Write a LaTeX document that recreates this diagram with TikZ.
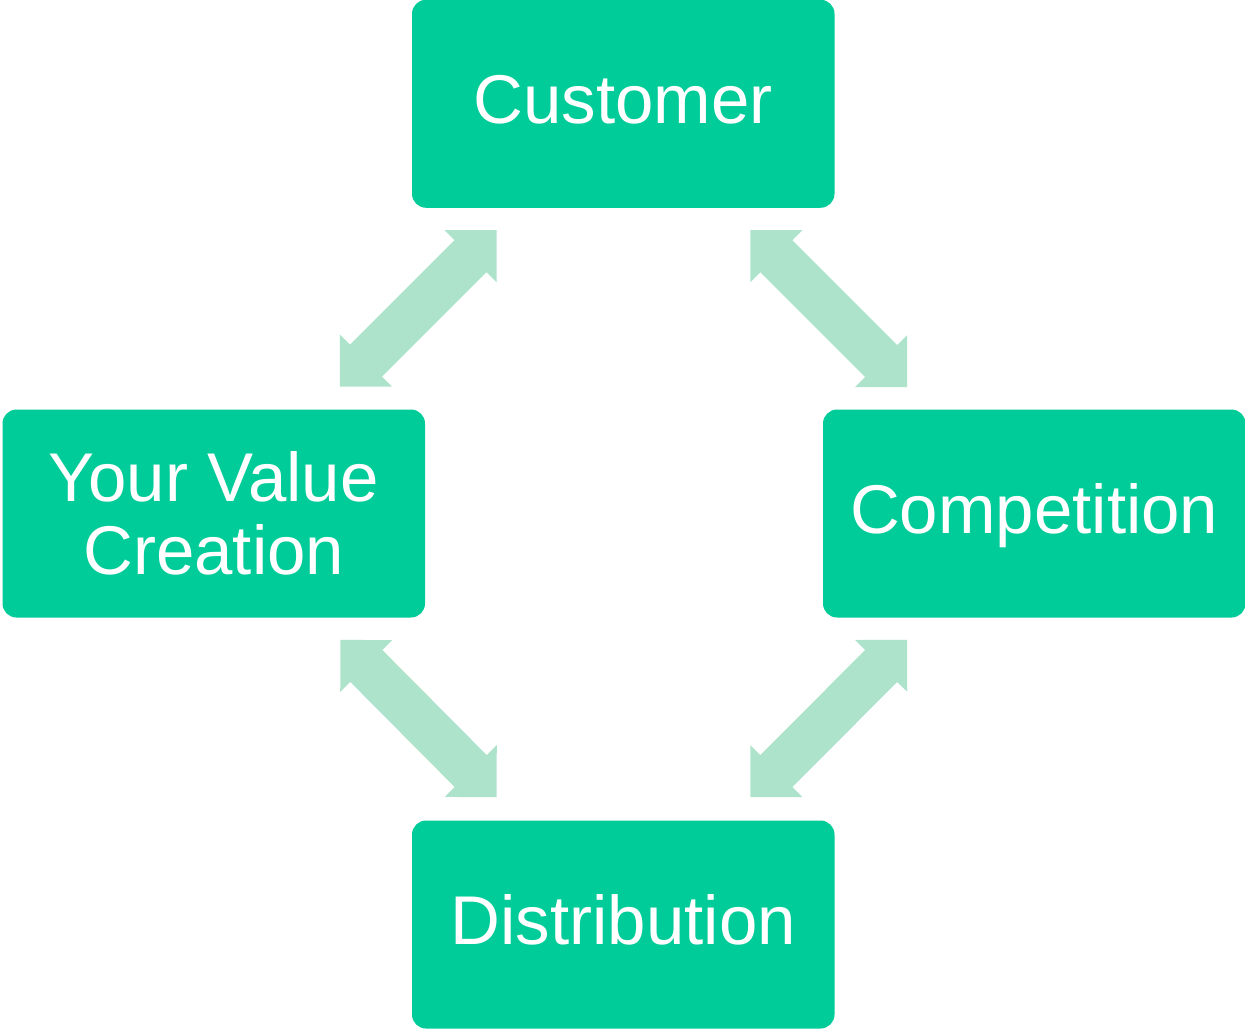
\documentclass[tikz,border=0pt]{standalone}
\usepackage{fontspec}
\setmainfont{Liberation Sans}
\usetikzlibrary{calc}
\definecolor{boxgreen}{RGB}{0,204,153}
\definecolor{arrowgreen}{RGB}{173,227,203}
\tikzset{
  box/.style={fill=boxgreen, draw=none, rounded corners=7pt, inner sep=0pt,
    minimum width=211.25pt, minimum height=104pt, text=white, align=center,
    font=\fontsize{34.5pt}{36.2pt}\selectfont},
  single/.style={text height=26pt, text depth=5.8pt},
  dblarrow/.style={fill=arrowgreen, draw=none}
}
\newcommand{\dblarrowpath}[2]{%
  \fill[dblarrow] (#1) -- ($(#1)!26pt!45:(#2)$) -- ($(#1)!21.59pt!31.6:(#2)$)
    -- ($(#2)!21.59pt!-31.6:(#1)$) -- ($(#2)!26pt!-45:(#1)$) -- (#2)
    -- ($(#2)!26pt!45:(#1)$) -- ($(#2)!21.59pt!31.6:(#1)$)
    -- ($(#1)!21.59pt!-31.6:(#2)$) -- ($(#1)!26pt!-45:(#2)$) -- cycle;}
\begin{document}
\begin{tikzpicture}[x=0.5pt, y=-0.5pt]
\useasboundingbox (0,0) rectangle (1245,1030);
\node[box, single] (cust) at (623.25,103.75) {Customer};
\node[box] (yvc) at (213.75,513.5) {Your Value\\Creation};
\node[box, single] (comp) at (1034.25,513.5) {Competition};
\node[box, single] (dist) at (623.25,924.5) {Distribution};
\coordinate (t1a) at ($(cust.south west)+(85,22)$);
\coordinate (t1b) at ($(yvc.north east)+(-85.5,-22.5)$);
\coordinate (t2a) at ($(cust.south east)+(-84.5,22)$);
\coordinate (t2b) at ($(comp.north west)+(84.5,-22)$);
\coordinate (t3a) at ($(yvc.south east)+(-85,22)$);
\coordinate (t3b) at ($(dist.north west)+(85,-23)$);
\coordinate (t4a) at ($(comp.south west)+(84.5,22)$);
\coordinate (t4b) at ($(dist.north east)+(-84.5,-23)$);
\dblarrowpath{t1a}{t1b}
\dblarrowpath{t2a}{t2b}
\dblarrowpath{t3a}{t3b}
\dblarrowpath{t4a}{t4b}
\end{tikzpicture}
\end{document}
